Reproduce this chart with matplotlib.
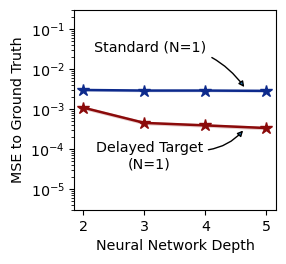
import matplotlib
matplotlib.use("Agg")
import matplotlib.pyplot as plt
import numpy as np

depth = [2, 3, 4, 5]
standard_mse = [3.0e-3, 2.9e-3, 2.9e-3, 2.85e-3]
delayed_mse = [1.08e-3, 4.5e-4, 3.9e-4, 3.35e-4]
standard_color = "#0d2a8c"
delayed_color = "#8b0a0a"

fig, ax = plt.subplots(figsize=(2.86, 2.64), dpi=100)
fig.subplots_adjust(left=0.26, right=0.965, bottom=0.205, top=0.962)

ax.fill_between(depth, np.array(standard_mse) * 0.93, np.array(standard_mse) * 1.07,
                color=standard_color, alpha=0.2, lw=0)
ax.plot(depth, standard_mse, color=standard_color, marker="*", ms=9, lw=1.8)
ax.fill_between(depth, np.array(delayed_mse) * 0.9, np.array(delayed_mse) * 1.1,
                color=delayed_color, alpha=0.2, lw=0)
ax.plot(depth, delayed_mse, color=delayed_color, marker="*", ms=9, lw=1.8)

ax.set_yscale("log")
ax.set_ylim(3e-6, 3e-1)
ax.set_xlim(1.85, 5.16)
ax.set_xticks(depth)
ax.set_xlabel("Neural Network Depth", fontsize=10.3)
ax.set_ylabel("MSE to Ground Truth", fontsize=10.3)
ax.tick_params(labelsize=10.3)

arrow = dict(arrowstyle="-|>", ec="black", fc="#1f77b4", lw=1, shrinkA=2, shrinkB=0,
             mutation_scale=8)
ax.annotate("Standard (N=1)", xy=(4.64, 3.55e-3), xytext=(3.1, 3.4e-2),
            ha="center", va="center", fontsize=10.3,
            arrowprops=dict(arrow, connectionstyle="arc3,rad=-0.3"))
ax.annotate("Delayed Target\n(N=1)", xy=(4.62, 2.9e-4), xytext=(3.08, 6.5e-5),
            ha="center", va="center", fontsize=10.3,
            arrowprops=dict(arrow, connectionstyle="arc3,rad=0.2", relpos=(1.0, 0.7)))

fig.savefig("out.png", dpi=100)
